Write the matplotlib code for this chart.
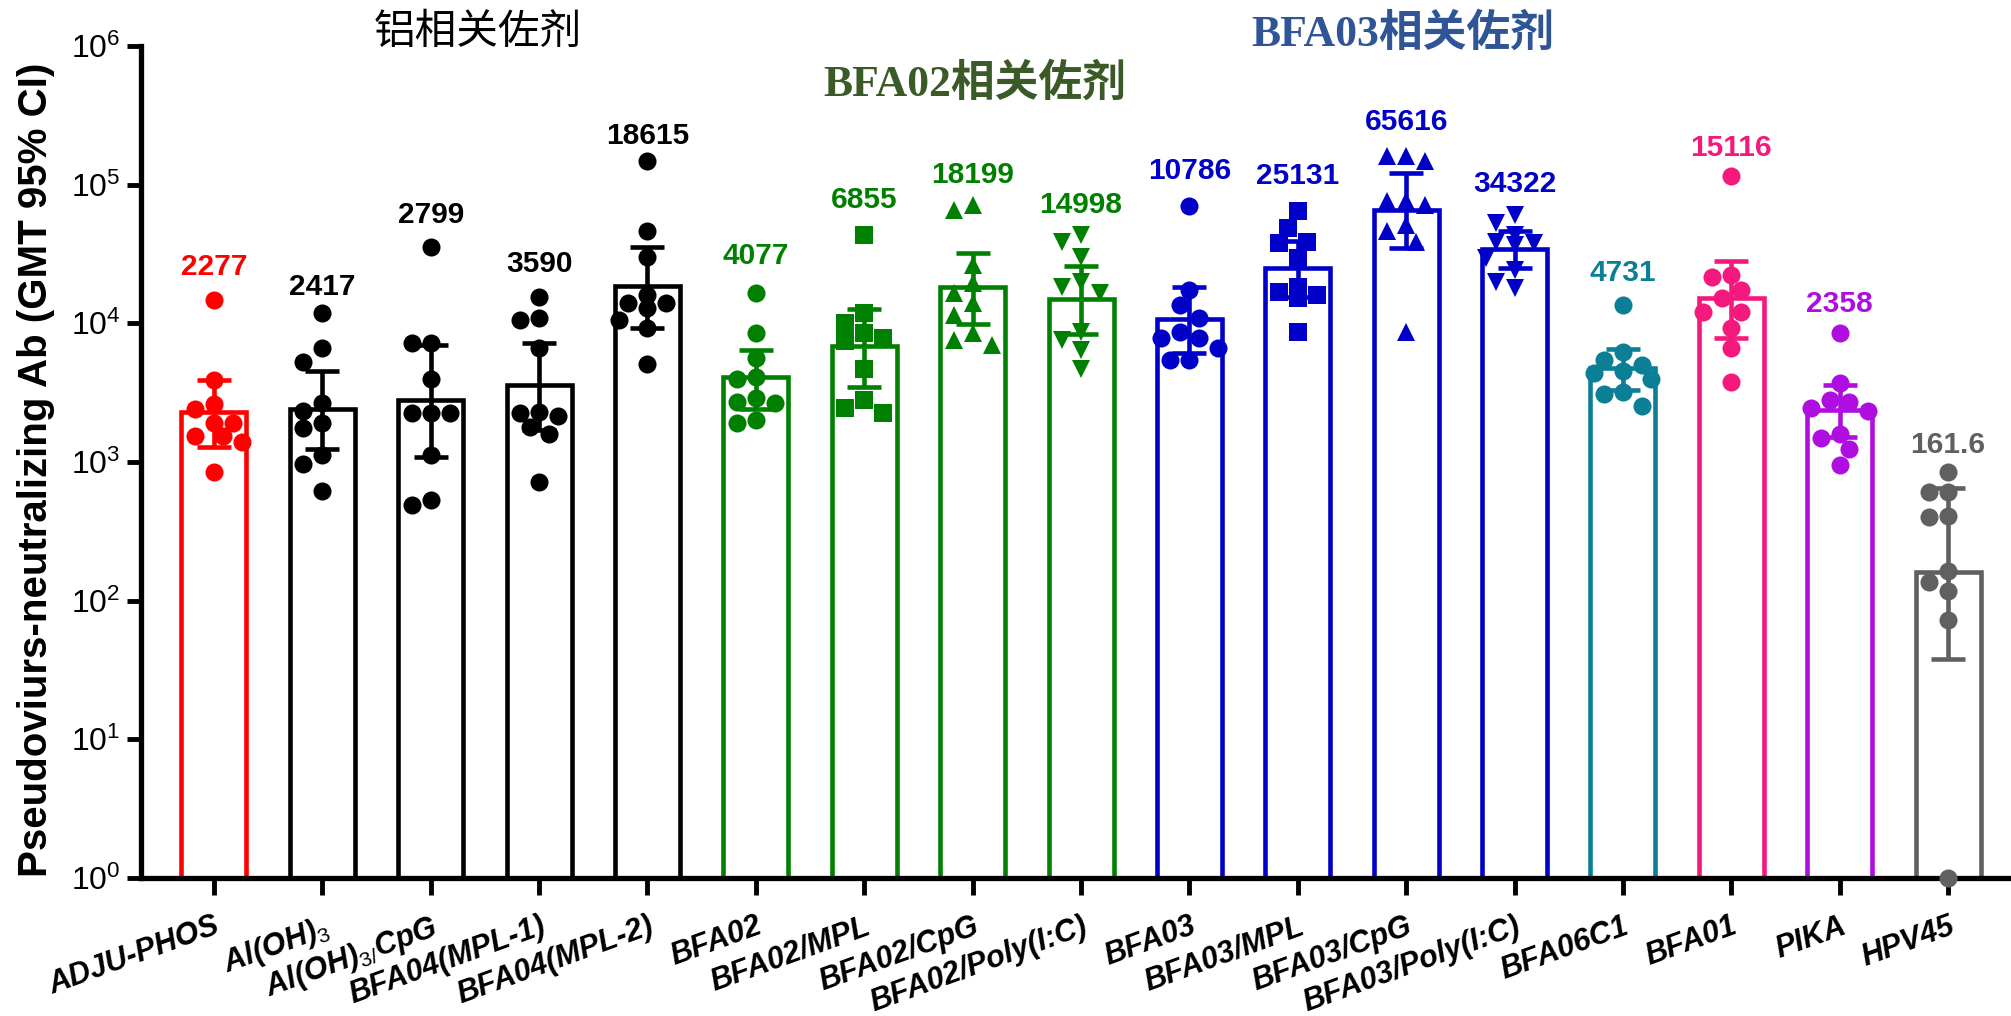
import numpy as np
import matplotlib
matplotlib.use('Agg')
import matplotlib.pyplot as plt

plt.rcParams['font.family'] = ['Liberation Sans', 'DejaVu Sans']
plt.rcParams['mathtext.fontset'] = 'custom'
plt.rcParams['mathtext.rm'] = 'Liberation Sans'
plt.rcParams['mathtext.it'] = 'Liberation Sans:italic'
plt.rcParams['mathtext.bf'] = 'Liberation Sans:bold'

# ---------------- data ----------------
categories = ['ADJU-PHOS', r'Al(OH)$_{3}$', r'Al(OH)$_{3/}$CpG', 'BFA04(MPL-1)', 'BFA04(MPL-2)',
              'BFA02', 'BFA02/MPL', 'BFA02/CpG', 'BFA02/Poly(I:C)',
              'BFA03', 'BFA03/MPL', 'BFA03/CpG', 'BFA03/Poly(I:C)',
              'BFA06C1', 'BFA01', 'PIKA', 'HPV45']
gmt = [2277, 2417, 2799, 3590, 18615, 4077, 6855, 18199, 14998,
       10786, 25131, 65616, 34322, 4731, 15116, 2358, 161.6]
gmt_text = ['2277', '2417', '2799', '3590', '18615', '4077', '6855', '18199', '14998',
            '10786', '25131', '65616', '34322', '4731', '15116', '2358', '161.6']
ci_low = [1280, 1250, 1090, 1710, 9200, 2430, 3480, 9840, 8320,
          6070, 15500, 34800, 25000, 3300, 7800, 1520, 38]
ci_high = [3890, 4520, 6970, 7160, 35800, 6410, 12700, 32100, 25700,
           18400, 39000, 121300, 46000, 6490, 28300, 3580, 648]

adju_phos = [14800, 3900, 2600, 2400, 1900, 1900, 1550, 1550, 1400, 850]
aloh3 = [11800, 6600, 5300, 2650, 2350, 1900, 1750, 1120, 970, 620]
aloh3_cpg = [35800, 7200, 7200, 4000, 2250, 2250, 2250, 1120, 530, 490]
bfa04_mpl1 = [15600, 10900, 10600, 6600, 2300, 2250, 2150, 1800, 1600, 720]
bfa04_mpl2 = [147000, 46500, 30300, 16000, 14000, 14000, 12800, 10600, 9200, 5100]
bfa02 = [16500, 8500, 5600, 4100, 4000, 2900, 2700, 2650, 2000, 1900]
bfa02_mpl = [43600, 11800, 10000, 8500, 7800, 7400, 4700, 2800, 2450, 2250]
bfa02_cpg = [71600, 65900, 26400, 19500, 16500, 14000, 11500, 8500, 7600, 7000]
bfa02_poly = [43600, 38900, 30300, 20000, 18400, 16500, 8700, 7600, 6400, 4700]
bfa03 = [69700, 17400, 13600, 10900, 8700, 7800, 7800, 6600, 5400, 5400]
bfa03_mpl = [64100, 48600, 38900, 37800, 29500, 18400, 16900, 16000, 15200, 8700]
bfa03_cpg = [160000, 160000, 149000, 76000, 76000, 71700, 51400, 46000, 38900, 8700]
bfa03_poly = [60700, 52800, 43600, 38900, 37800, 36800, 29500, 24300, 20000, 17900]
bfa06c1 = [13600, 6200, 5400, 5000, 4500, 4350, 4000, 3200, 3100, 2550]
bfa01 = [115000, 22300, 21700, 17400, 15200, 12100, 12100, 9200, 6600, 3800]
pika = [8500, 3700, 2800, 2700, 2450, 2350, 1600, 1480, 1250, 950]
hpv45 = [850, 610, 610, 410, 400, 165, 136, 118, 72, 1]

points = [adju_phos, aloh3, aloh3_cpg, bfa04_mpl1, bfa04_mpl2,
          bfa02, bfa02_mpl, bfa02_cpg, bfa02_poly,
          bfa03, bfa03_mpl, bfa03_cpg, bfa03_poly,
          bfa06c1, bfa01, pika, hpv45]

group_titles = ['铝相关佐剂', 'BFA02相关佐剂', 'BFA03相关佐剂']
y_label = 'Pseudoviurs-neutralizing Ab (GMT 95% CI)'

# ---------------- style / layout ----------------
colors = ['#FF0000', '#000000', '#000000', '#000000', '#000000',
          '#008000', '#008000', '#008000', '#008000',
          '#0000C8', '#0000C8', '#0000C8', '#0000C8',
          '#0B7F95', '#F5197D', '#AF0EE0', '#606060']
markers = ['o', 'o', 'o', 'o', 'o',
           'o', 's', '^', 'v',
           'o', 's', '^', 'v',
           'o', 'o', 'o', 'o']
label_y = [25600, 18400, 60900, 27000, 223000, 30800, 76900, 116700, 70800,
           124800, 114800, 282000, 100500, 22900, 183000, 13900, 1325]

W, H = 2011, 1016
fig = plt.figure(figsize=(W / 100, H / 100), dpi=100)
ax = fig.add_axes([141 / W, 1 - 878 / H, (W - 141) / W, (878 - 46) / H])
ax.set_yscale('log')
ax.set_ylim(1, 1e6)
x = np.arange(len(categories))
ax.set_xlim(-0.673, 16.58)

bar_w = 0.60
lw = 3.3
for i in x:
    ax.bar(i, gmt[i] - 1, bottom=1, width=bar_w, facecolor='white',
           edgecolor=colors[i], linewidth=lw, zorder=2)
    ax.errorbar(i, gmt[i], yerr=[[gmt[i] - ci_low[i]], [ci_high[i] - gmt[i]]],
                fmt='none', ecolor=colors[i], elinewidth=lw, capsize=12.5,
                capthick=lw, zorder=3)

# beeswarm-like horizontal spreading of points (in pixel space)
d_px = 18.0
step_px = 9.5
cands = [0, -1, 1, -2, 2, -3, 3]
ppu = ax.transData.transform((1, 1))[0] - ax.transData.transform((0, 1))[0]
for i in x:
    vals = np.array(points[i], dtype=float)
    ypx = ax.transData.transform(np.column_stack([np.full(len(vals), i), vals]))[:, 1]
    order = np.argsort(-vals, kind='stable')
    placed = []
    offs = np.zeros(len(vals))
    for j in order:
        best, best_d = 0.0, -1.0
        chosen = None
        for k in cands:
            dx = k * step_px
            md = min([np.hypot(dx - px, ypx[j] - py) for px, py in placed] or [1e9])
            if md >= d_px * 0.95:
                chosen = dx
                break
            if md > best_d:
                best, best_d = dx, md
        if chosen is None:
            chosen = best
        placed.append((chosen, ypx[j]))
        offs[j] = chosen
    ms = 13.5 if markers[i] in ('^', 'v') else 13
    ax.plot(i + offs / ppu, vals, linestyle='none', marker=markers[i], ms=ms,
            color=colors[i], markeredgewidth=0, zorder=4, clip_on=False)
    ax.text(i, label_y[i], gmt_text[i], ha='center', va='center', fontsize=21.5,
            fontweight='bold', color=colors[i])

# axes styling
for s in ['top', 'right']:
    ax.spines[s].set_visible(False)
for s in ['left', 'bottom']:
    ax.spines[s].set_linewidth(3.8)
ax.set_yticks([1, 10, 100, 1e3, 1e4, 1e5, 1e6])
ax.set_yticklabels([r'$\mathregular{10^{%d}}$' % k for k in range(7)], fontsize=23)
ax.yaxis.set_minor_locator(matplotlib.ticker.NullLocator())
ax.tick_params(axis='y', length=10, width=3.5, pad=5)
ax.tick_params(axis='x', length=12, width=3.5, pad=12)
ax.set_xticks(x)
ax.set_xticklabels(categories, rotation=20, ha='right', rotation_mode='anchor',
                   fontsize=22, fontweight='bold', fontstyle='italic')

fig.text(36 / W, 1 - 470 / H, y_label, rotation=90, ha='center', va='center',
         fontsize=29, fontweight='bold')

fig.text(478 / W, 1 - 32 / H, group_titles[0], ha='center', va='center',
         fontsize=30, family=['Noto Sans CJK SC', 'DejaVu Sans'], color='black')
fig.text(975 / W, 1 - 84 / H, group_titles[1], ha='center', va='center',
         fontsize=31.5, fontweight='bold', family=['Liberation Serif', 'Noto Sans CJK SC'],
         color='#3A5A27')
fig.text(1403 / W, 1 - 34 / H, group_titles[2], ha='center', va='center',
         fontsize=31.5, fontweight='bold', family=['Liberation Serif', 'Noto Sans CJK SC'],
         color='#2F5597')

fig.savefig('out.png', dpi=100)
